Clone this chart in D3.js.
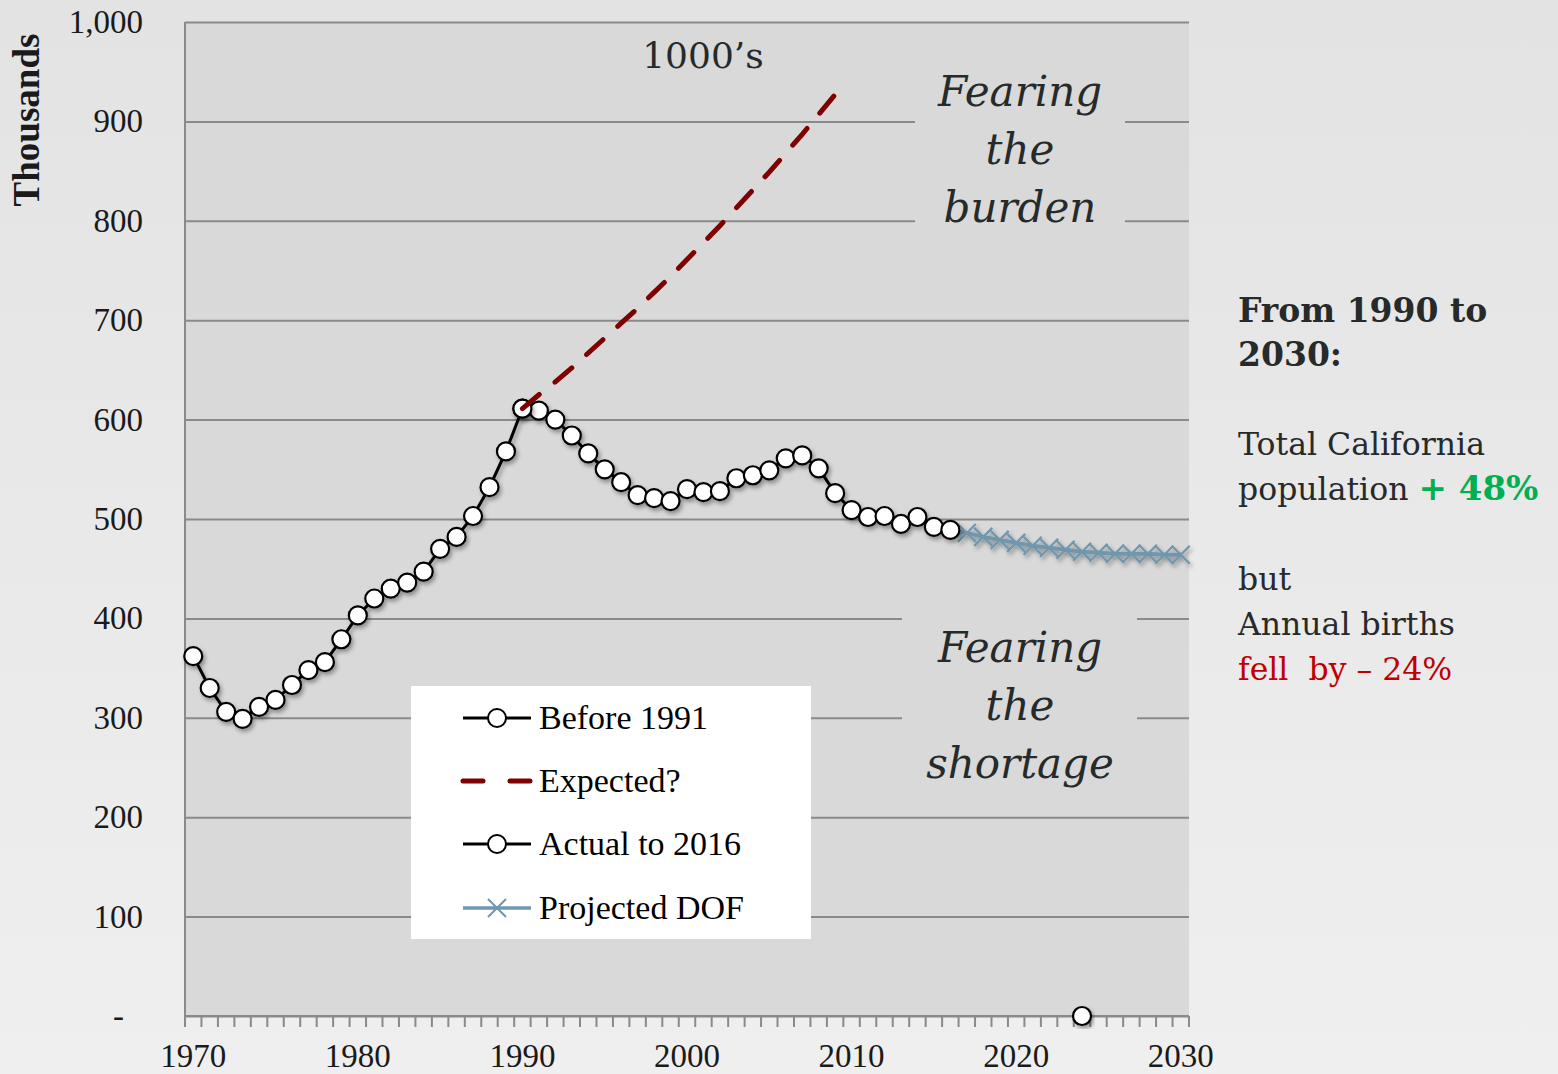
<!DOCTYPE html>
<html>
<head>
<meta charset="utf-8">
<script src="https://cdn.jsdelivr.net/npm/d3@7"></script>
<style>
  body { margin: 0; background: #eaeaea; }
  svg { display: block; }
</style>
</head>
<body>
<svg id="chart" width="1558" height="1074"></svg>
<script>
// categories (one per year on the x axis)
const years = d3.range(1970, 2031);
const yTicks = [0, 100, 200, 300, 400, 500, 600, 700, 800, 900, 1000];
const xLabelYears = [1970, 1980, 1990, 2000, 2010, 2020, 2030];

// births, thousands
const before1991Years = [1970,1971,1972,1973,1974,1975,1976,1977,1978,1979,1980,1981,1982,1983,1984,1985,1986,1987,1988,1989,1990];
const before1991 = [362,330,306,299,311,318,333,348,356,379,403,420,430,436,447,470,482,503,532,568,611];

const actualYears = [1990,1991,1992,1993,1994,1995,1996,1997,1998,1999,2000,2001,2002,2003,2004,2005,2006,2007,2008,2009,2010,2011,2012,2013,2014,2015,2016];
const actual = [611,609,600,584,566,550,537,524,521,518,530,527,528,541,544,549,561,564,551,526,509,502,503,495,502,492,489];

const expectedYears = [1990,1991,1992,1993,1994,1995,1996,1997,1998,1999,2000,2001,2002,2003,2004,2005,2006,2007,2008,2009];
const expected = [611,625,638,652,667,682,697,712,728,744,761,778,795,813,831,849,868,887,907,927];

const projectedYears = [2016,2017,2018,2019,2020,2021,2022,2023,2024,2025,2026,2027,2028,2029,2030];
const projected = [489,486,482,479,476,473,471,469,467,466,465,465,465,464,464];

// stray zero point sitting on the axis
const zeroYears = [2024];
const zeroValues = [0];

const legendItems = ["Before 1991", "Expected?", "Actual to 2016", "Projected DOF"];

const svg = d3.select("#chart");
const width = 1558, height = 1074;
const margin = { top: 22, bottom: 58, left: 185, right: 369 };

const defs = svg.append("defs");
const bg = defs.append("linearGradient").attr("id", "bg").attr("x1", 0).attr("y1", 0).attr("x2", 0).attr("y2", 1);
bg.append("stop").attr("offset", "0%").attr("stop-color", "#e3e3e3");
bg.append("stop").attr("offset", "100%").attr("stop-color", "#efefef");
const shadow = defs.append("filter").attr("id", "shadow").attr("x", "-20%").attr("y", "-20%").attr("width", "140%").attr("height", "140%");
shadow.append("feDropShadow").attr("dx", 2).attr("dy", 3).attr("stdDeviation", 2)
    .attr("flood-color", "#000").attr("flood-opacity", 0.35);

svg.append("rect").attr("width", width).attr("height", height).attr("fill", "url(#bg)");

const xScale = d3.scaleBand().domain(years).range([margin.left, width - margin.right]).padding(0);
const cx = y => xScale(y) + xScale.bandwidth() / 2;
const yScale = d3.scaleLinear().domain([0, 1000]).range([height - margin.bottom, margin.top]);

const x0 = margin.left, x1 = width - margin.right;
const y0 = yScale(0), y1 = yScale(1000);

// plot area
svg.append("rect").attr("x", x0).attr("y", y1).attr("width", x1 - x0).attr("height", y0 - y1).attr("fill", "#d9d9d9");

// y gridlines + labels
const gridColor = "#8a8a8a";
const yAxis = d3.axisLeft(yScale).tickValues(yTicks)
    .tickSize(-(x1 - x0) - 10).tickPadding(32)
    .tickFormat(d => d === 0 ? "-" : d3.format(",")(d));
const gy = svg.append("g").attr("transform", `translate(${x0 + 10},0)`).call(yAxis);
gy.select(".domain").remove();
gy.selectAll(".tick line").attr("stroke", gridColor).attr("stroke-width", 2)
    .attr("x1", -10).attr("x2", x1 - x0 - 10);
gy.selectAll(".tick text").attr("font-family", "Liberation Serif, serif").attr("font-size", 33)
    .attr("fill", "#1a1a1a").attr("x", d => d === 0 ? -71 : -52);

// y axis line
svg.append("line").attr("x1", x0).attr("x2", x0).attr("y1", y1).attr("y2", y0)
    .attr("stroke", gridColor).attr("stroke-width", 2);

// x axis: ticks on band edges, labels every 10 years
const gx = svg.append("g");
gx.append("line").attr("x1", x0).attr("x2", x1).attr("y1", y0).attr("y2", y0)
    .attr("stroke", gridColor).attr("stroke-width", 2);
gx.selectAll(".xt").data(years.concat([2031])).join("line")
    .attr("class", "xt")
    .attr("x1", d => d === 2031 ? x1 : xScale(d)).attr("x2", d => d === 2031 ? x1 : xScale(d))
    .attr("y1", y0).attr("y2", y0 + 11)
    .attr("stroke", gridColor).attr("stroke-width", 2);
gx.selectAll(".xl").data(xLabelYears).join("text")
    .attr("class", "xl")
    .attr("x", d => cx(d)).attr("y", y0 + 51)
    .attr("text-anchor", "middle")
    .attr("font-family", "Liberation Serif, serif").attr("font-size", 33).attr("fill", "#1a1a1a")
    .text(d => d);

// y title
svg.append("text")
    .attr("transform", `translate(39,${(y1 + 208) / 2 + 5}) rotate(-90)`)
    .attr("text-anchor", "middle")
    .attr("font-family", "Liberation Serif, serif").attr("font-weight", "bold").attr("font-size", 37)
    .attr("fill", "#1a1a1a")
    .text("Thousands");

// annotation boxes that break the gridlines
const annoFont = "DejaVu Serif, Georgia, serif";
const textColor = "#262a2a";
svg.append("rect").attr("x", 915).attr("y", 62).attr("width", 210).attr("height", 175).attr("fill", "#d9d9d9");
svg.append("rect").attr("x", 902).attr("y", 600).attr("width", 235).attr("height", 195).attr("fill", "#d9d9d9");

function fearing(lines, x, yStart) {
    const t = svg.append("text").attr("font-family", annoFont).attr("font-style", "italic")
        .attr("font-size", 42).attr("fill", textColor).attr("text-anchor", "middle");
    lines.forEach((l, i) => t.append("tspan").attr("x", x).attr("y", yStart + i * 58).text(l));
}
fearing(["Fearing", "the", "burden"], 1020, 106);
fearing(["Fearing", "the", "shortage"], 1020, 662);

svg.append("text").attr("x", 703).attr("y", 68).attr("text-anchor", "middle")
    .attr("font-family", annoFont).attr("font-size", 36).attr("fill", textColor)
    .text("1000\u2019s");

// series
const line = d3.line().x(d => cx(d[0])).y(d => yScale(d[1]));
const zip = (a, b) => a.map((v, i) => [v, b[i]]);

const projData = zip(projectedYears, projected);
const projColor = "#6f97ae";
const gp = svg.append("g").attr("filter", "url(#shadow)");
gp.append("path").datum(projData).attr("d", line).attr("fill", "none")
    .attr("stroke", projColor).attr("stroke-width", 4);
gp.selectAll(".cross").data(projData.slice(1)).join("path")
    .attr("class", "cross")
    .attr("d", d => { const x = cx(d[0]), y = yScale(d[1]), s = 9;
        return `M${x - s},${y - s}L${x + s},${y + s}M${x - s},${y + s}L${x + s},${y - s}`; })
    .attr("stroke", projColor).attr("stroke-width", 2.2);

function circleSeries(data) {
    const g = svg.append("g").attr("filter", "url(#shadow)");
    g.append("path").datum(data).attr("d", line).attr("fill", "none")
        .attr("stroke", "#000").attr("stroke-width", 3);
    g.selectAll("circle").data(data).join("circle")
        .attr("cx", d => cx(d[0])).attr("cy", d => yScale(d[1])).attr("r", 9)
        .attr("fill", "#fff").attr("stroke", "#000").attr("stroke-width", 2.2);
}
circleSeries(zip(actualYears, actual));
circleSeries(zip(before1991Years, before1991));
circleSeries(zip(zeroYears, zeroValues));

svg.append("path").datum(zip(expectedYears, expected)).attr("d", line).attr("fill", "none")
    .attr("stroke", "#7f0000").attr("stroke-width", 5).attr("stroke-linecap", "round")
    .attr("stroke-dasharray", "22,20");

// legend
const lg = svg.append("g");
lg.append("rect").attr("x", 411).attr("y", 686).attr("width", 400).attr("height", 253).attr("fill", "#fff");
const rowY = [718, 781, 844, 908];
legendItems.forEach((name, i) => {
    const y = rowY[i];
    if (i === 1) {
        lg.append("line").attr("x1", 463).attr("x2", 531).attr("y1", y).attr("y2", y)
            .attr("stroke", "#7f0000").attr("stroke-width", 5).attr("stroke-linecap", "round")
            .attr("stroke-dasharray", "20,27");
    } else if (i === 3) {
        lg.append("line").attr("x1", 463).attr("x2", 531).attr("y1", y).attr("y2", y)
            .attr("stroke", projColor).attr("stroke-width", 3.5);
        lg.append("path").attr("d", `M488,${y - 9}L506,${y + 9}M488,${y + 9}L506,${y - 9}`)
            .attr("stroke", projColor).attr("stroke-width", 2);
    } else {
        lg.append("line").attr("x1", 463).attr("x2", 531).attr("y1", y).attr("y2", y)
            .attr("stroke", "#000").attr("stroke-width", 3);
        lg.append("circle").attr("cx", 497).attr("cy", y).attr("r", 9)
            .attr("fill", "#fff").attr("stroke", "#000").attr("stroke-width", 2);
    }
    lg.append("text").attr("x", 539).attr("y", y + 11)
        .attr("font-family", "Liberation Serif, serif").attr("font-size", 34).attr("fill", "#000")
        .text(name);
});

// right-hand note
const note = svg.append("g").attr("font-family", annoFont).attr("font-size", 31.5).attr("fill", textColor);
note.append("text").attr("x", 1238).attr("y", 322).attr("font-weight", "bold").attr("font-size", 33).text("From 1990 to");
note.append("text").attr("x", 1238).attr("y", 366).attr("font-weight", "bold").attr("font-size", 33).text("2030:");
note.append("text").attr("x", 1238).attr("y", 455).text("Total California");
const pop = note.append("text").attr("x", 1238).attr("y", 500);
pop.append("tspan").text("population ");
pop.append("tspan").attr("fill", "#00b050").attr("font-weight", "bold").attr("font-size", 34).text("+ 48%");
note.append("text").attr("x", 1238).attr("y", 590).text("but");
note.append("text").attr("x", 1238).attr("y", 635).text("Annual births");
note.append("text").attr("x", 1238).attr("y", 680).attr("fill", "#c00000").text("fell\u00a0\u00a0by \u2013 24%");
</script>
</body>
</html>
